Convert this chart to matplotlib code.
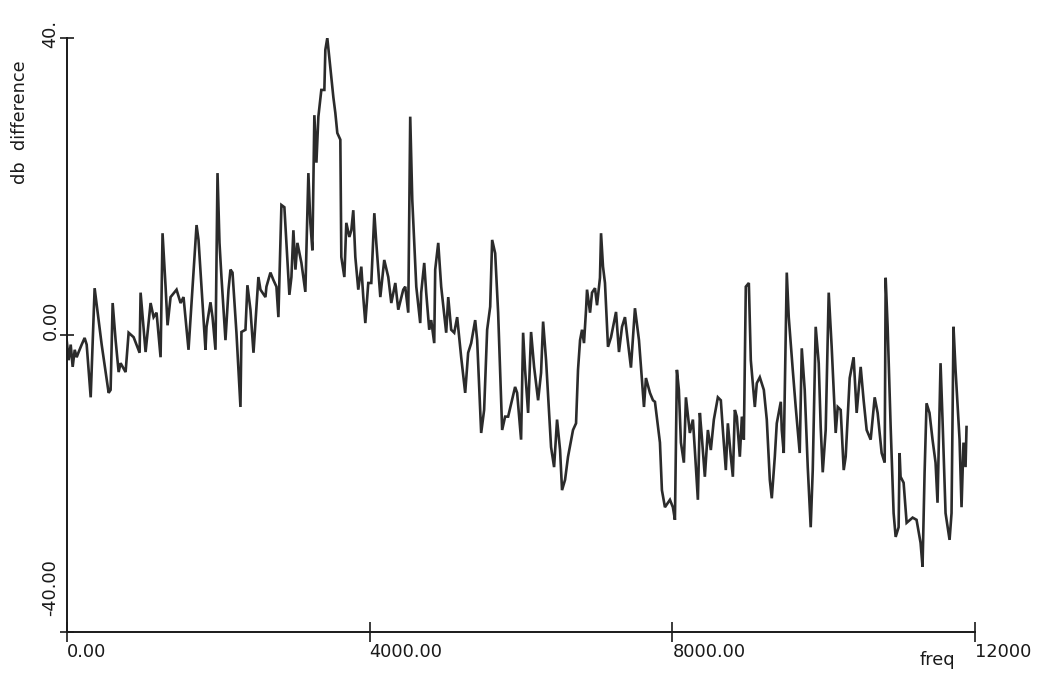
import matplotlib
matplotlib.use("Agg")
import matplotlib.pyplot as plt

freq = [0, 26, 53, 79, 106, 132, 158, 198, 237, 264, 317, 369, 462, 554, 580, 607, 646, 686, 712, 778,
        818, 884, 963, 976, 1042, 1108, 1148, 1187, 1240, 1266, 1306, 1332, 1372, 1451, 1504, 1543, 1609,
        1675, 1715, 1741, 1833, 1847, 1899, 1926, 1965, 1992, 2018, 2044, 2097, 2137, 2163, 2190, 2242,
        2295, 2308, 2361, 2387, 2427, 2467, 2532, 2559, 2625, 2638, 2691, 2730, 2770, 2796, 2836, 2875,
        2941, 2968, 2994, 3021, 3047, 3100, 3152, 3192, 3218, 3245, 3271, 3298, 3324, 3363, 3403, 3416,
        3442, 3522, 3548, 3574, 3614, 3627, 3667, 3693, 3733, 3759, 3785, 3812, 3851, 3891, 3917, 3944,
        3983, 4023, 4063, 4089, 4142, 4194, 4247, 4287, 4340, 4379, 4445, 4471, 4511, 4537, 4564, 4617,
        4669, 4682, 4722, 4748, 4788, 4814, 4854, 4867, 4907, 4946, 5012, 5039, 5078, 5118, 5157, 5210,
        5263, 5302, 5342, 5395, 5421, 5474, 5513, 5553, 5593, 5619, 5659, 5698, 5751, 5790, 5830, 5922,
        5949, 6001, 6028, 6054, 6094, 6133, 6173, 6226, 6265, 6292, 6331, 6397, 6437, 6476, 6516, 6542,
        6582, 6621, 6687, 6727, 6753, 6780, 6806, 6832, 6859, 6872, 6912, 6938, 6977, 7004, 7043, 7057,
        7083, 7109, 7149, 7189, 7255, 7294, 7334, 7373, 7452, 7505, 7558, 7624, 7650, 7703, 7743, 7769,
        7835, 7861, 7901, 7967, 8006, 8033, 8059, 8085, 8112, 8151, 8178, 8230, 8270, 8296, 8336, 8362,
        8388, 8428, 8468, 8507, 8547, 8600, 8639, 8666, 8705, 8732, 8771, 8798, 8824, 8850, 8890, 8917,
        8943, 8969, 9009, 9035, 9088, 9114, 9154, 9207, 9246, 9286, 9312, 9352, 9378, 9431, 9444, 9470,
        9510, 9536, 9589, 9628, 9681, 9708, 9747, 9787, 9826, 9853, 9892, 9932, 9958, 9985, 10024, 10064,
        10103, 10156, 10183, 10222, 10262, 10288, 10341, 10393, 10433, 10486, 10525, 10565, 10618, 10671,
        10710, 10763, 10803, 10816, 10842, 10882, 10921, 10948, 10987, 11000, 11013, 11053, 11093, 11172,
        11224, 11277, 11303, 11330, 11356, 11395, 11435, 11475, 11501, 11541, 11567, 11607, 11660, 11686,
        11712, 11739, 11792, 11818, 11844, 11871, 11884]

db = [-0.7, -3.4, -1.3, -4.3, -2.0, -3.0, -2.3, -1.3, -0.4, -1.3, -8.4, 6.3, -1.3, -7.8, -7.4, 4.3, -0.7,
      -5.0, -3.8, -5.0, 0.3, -0.3, -2.4, 5.7, -2.3, 4.3, 2.4, 3.0, -3.0, 13.7, 6.5, 1.3, 5.1, 6.1, 4.3,
      5.1, -2.0, 8.4, 14.8, 12.8, -2.0, 1.1, 4.4, 2.4, -2.0, 21.8, 12.4, 7.8, -0.7, 6.1, 8.8, 8.4, 0.3,
      -9.7, 0.4, 0.7, 6.7, 3.4, -2.4, 7.8, 6.1, 5.1, 6.5, 8.4, 7.4, 6.5, 2.4, 17.5, 17.2, 5.4, 7.8, 14.1,
      8.8, 12.4, 9.7, 5.8, 21.8, 15.1, 11.4, 29.6, 23.2, 29.4, 33.0, 33.0, 38.4, 40.0, 32.0, 29.9, 27.2,
      26.3, 10.5, 7.8, 15.1, 13.2, 14.1, 16.8, 10.5, 6.1, 9.2, 5.1, 1.6, 7.0, 7.0, 16.4, 12.4, 5.1, 10.1,
      7.8, 4.3, 7.0, 3.4, 6.1, 6.5, 3.0, 29.4, 18.2, 6.5, 1.6, 5.7, 9.7, 5.7, 0.7, 2.0, -1.1, 8.8, 12.4,
      6.5, 0.3, 5.1, 0.7, 0.3, 2.4, -3.0, -7.8, -2.4, -1.1, 2.0, -0.7, -13.2, -10.1, 0.7, 3.8, 12.8, 11.0,
      3.0, -12.8, -11.0, -11.0, -7.0, -7.8, -14.1, 0.3, -4.7, -10.5, 0.4, -4.3, -8.8, -5.1, 1.8, -3.4,
      -15.1, -17.8, -11.4, -15.5, -20.9, -19.5, -16.4, -12.8, -11.9, -4.7, -0.7, 0.7, -1.1, 3.4, 6.1, 3.0,
      5.7, 6.3, 4.0, 7.7, 13.7, 9.2, 7.0, -1.6, -0.3, 3.1, -2.3, 1.1, 2.4, -4.4, 3.6, -0.7, -9.7, -5.8,
      -7.8, -8.8, -9.0, -14.5, -20.9, -23.2, -22.2, -23.2, -24.9, -4.7, -7.4, -14.5, -17.2, -8.4, -13.2,
      -11.4, -15.5, -22.2, -10.5, -13.7, -19.1, -12.8, -15.5, -11.4, -8.4, -8.8, -12.8, -18.2, -11.9,
      -16.4, -19.1, -10.1, -11.0, -16.4, -11.0, -14.1, 6.5, 7.0, -3.4, -9.7, -6.5, -5.7, -7.4, -11.4,
      -19.5, -22.0, -16.4, -11.9, -9.0, -12.8, -15.9, 8.4, 2.4, -4.7, -9.7, -15.9, -1.8, -7.4, -17.8,
      -25.9, -18.2, 1.1, -3.8, -12.4, -18.5, -12.8, 5.7, -1.6, -13.2, -9.7, -10.1, -18.2, -16.4, -5.8,
      -3.0, -10.5, -4.3, -8.8, -12.8, -14.1, -8.4, -10.5, -15.9, -17.2, 7.7, 1.1, -12.4, -24.0, -27.2,
      -25.9, -15.9, -19.1, -19.9, -25.3, -24.6, -24.9, -28.0, -31.2, -18.6, -9.2, -10.5, -14.1, -17.2,
      -22.6, -3.8, -11.4, -24.0, -27.6, -24.0, 1.1, -4.7, -14.1, -23.2, -14.5, -17.8, -12.4]

x_ticks = [0, 4000, 8000, 12000]
x_labels = ["0.00", "4000.00", "8000.00", "12000"]
y_ticks = [-40, 0, 40]
y_labels = ["-40.00", "0.00", "40."]

FONT = "DejaVu Sans"
FS = 12.8
INK = "#2b2b2b"
TXT = "#1a1a1a"

fig = plt.figure(figsize=(10.42, 6.73), dpi=100)
ax = fig.add_axes([0.064, 0.061, 0.872, 0.8826])
ax.plot(freq, db, color=INK, lw=1.9, solid_joinstyle="miter")

ax.set_xlim(0, 12000)
ax.set_ylim(-40, 40)
for s in ["top", "right"]:
    ax.spines[s].set_visible(False)
for s in ["left", "bottom"]:
    ax.spines[s].set_color(TXT)
    ax.spines[s].set_linewidth(1.4)

ax.set_xticks(x_ticks)
ax.set_xticklabels(x_labels, ha="left", fontfamily=FONT, fontsize=FS, color=TXT)
ax.tick_params(axis="x", direction="inout", length=14, width=1.2, pad=1, colors=TXT)
ax.set_yticks(y_ticks)
ax.set_yticklabels([])
ax.tick_params(axis="y", direction="inout", length=10, width=1.2, colors=TXT)

# rotated y tick labels, placed to the left of the axis
ypos = {"-40.00": -34.0, "0.00": 2.0, "40.": 40.6}
for lab in y_labels:
    ax.text(-0.008, ypos[lab], lab, transform=ax.get_yaxis_transform(), rotation=90,
            ha="right", va="center", fontfamily=FONT, fontsize=FS, color=TXT, clip_on=False)

fig.text(20 / 1042, 1 - 122 / 673, "db  difference", rotation=90, ha="center", va="center",
         fontfamily=FONT, fontsize=FS, color=TXT)
fig.text(937 / 1042, 1 - 660 / 673, "freq", ha="center", va="center",
         fontfamily=FONT, fontsize=FS, color=TXT)

fig.savefig("out.png", dpi=100, facecolor="white")
